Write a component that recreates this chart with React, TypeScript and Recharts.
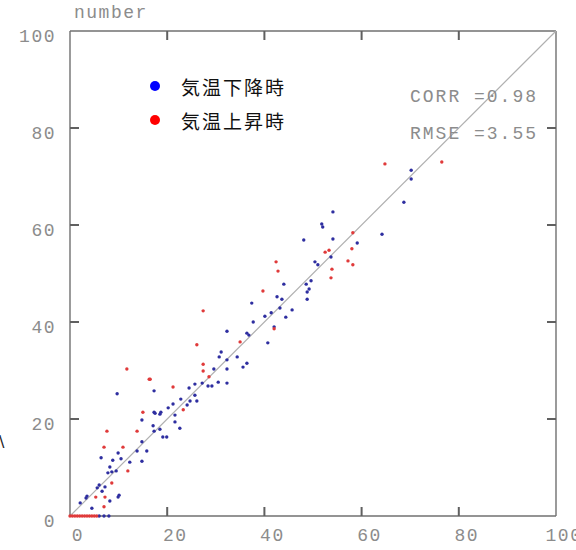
import {
  ScatterChart,
  Scatter,
  XAxis,
  YAxis,
  ReferenceLine,
  Legend,
} from 'recharts'

// axis ticks
const xTicks = [0, 20, 40, 60, 80, 100]
const yTicks = [0, 20, 40, 60, 80, 100]

// 気温下降時 (falling temperature) - [observed, estimated]
const fallingPts: [number, number][] = [
  [70.2, 71.3], [70.2, 69.5], [68.7, 64.7], [64.2, 58.1],
  [54.1, 62.7], [51.8, 60.2], [52, 59.6], [48.1, 56.9], [54.1, 57.1], [59.1, 56.3],
  [53.7, 53.4], [50.4, 52.4], [51, 51.8], [49.6, 48.5], [48.6, 47.8], [49.2, 46.8],
  [48.8, 46.2], [48.8, 44.7], [44, 47.8], [42.6, 45.2], [43.6, 44.7], [43.2, 42.9],
  [45.7, 42.5], [44.4, 41], [40.1, 41.2], [41.4, 41.9], [37.4, 43.9], [37.7, 40], [42, 39],
  [32.3, 38.1], [40.7, 35.7], [36.4, 37.7], [36.8, 37.3], [31.1, 33.8], [30.7, 32.8],
  [32.3, 32.2], [34.4, 32.8], [36.4, 31.5], [35.6, 30.7], [32.3, 30.3], [29.6, 30.3],
  [30.5, 27.6], [32.3, 27.4], [29.2, 26.8], [28.4, 26.8], [27.2, 27.4], [25.7, 27.2],
  [24.5, 26.4], [17.3, 25.8], [25.7, 24.9], [22.8, 24.1], [24.7, 23.7], [26.1, 23.7],
  [24.1, 22.9], [21.2, 23.1], [20.2, 22.3], [18.7, 21.4], [17.5, 21.2], [21.6, 20.8],
  [9.7, 25.2], [17.3, 21.4], [18.5, 21], [14.8, 19.8], [21.6, 19.4], [22.6, 18.1],
  [17.1, 18.6], [17.3, 17.5], [18.5, 17.9], [19.1, 16.3], [19.9, 16.3], [14.8, 15.3],
  [15.8, 13.4], [13.8, 13.4], [9.9, 13], [10.5, 11.8], [8.8, 11.5], [12.3, 11.1],
  [14.8, 11.3], [6.4, 12], [8.2, 10.1], [8.6, 9.1], [9.5, 9.3], [7.8, 8.9], [6, 6.4],
  [5.6, 5.8], [7.2, 6], [6.6, 5.1], [10.1, 4.3], [9.9, 3.9], [8.2, 3.1], [3.5, 4.1],
  [3.3, 3.7], [4.5, 1.6], [2.1, 2.7], [6, 0], [7, 0], [8, 0],
]

// 気温上昇時 (rising temperature)
const risingPts: [number, number][] = [
  [64.8, 72.6], [76.5, 73], [58.2, 58.4], [58, 55.1], [57.2, 52.6], [58.2, 51.8],
  [52.5, 54.4], [53.3, 54.8], [42.4, 52.4], [42.8, 50.5], [53.9, 50.9], [53.7, 49.1],
  [39.7, 46.4], [42, 38.6], [27.4, 42.3], [35, 35.9], [26.1, 35.3], [27.4, 31.3],
  [27.4, 29.9], [28.6, 28.7], [21.2, 26.6], [16.5, 28.2], [23.3, 21.9], [11.7, 30.3],
  [16.3, 28.2], [15, 21.4], [13.8, 17.5], [7.6, 17.5], [7, 14.2], [10.9, 14.2],
  [11.9, 9.3], [8.6, 6.8], [7.2, 3.9], [7, 1.9], [5.3, 3.9],
  [0, 0], [0.5, 0], [1, 0], [1.5, 0], [2, 0], [2.5, 0], [3, 0], [3.5, 0],
  [4, 0], [4.5, 0], [5, 0], [5.5, 0],
]

const seriesNames = ['気温下降時', '気温上昇時']
const legendColors = ['#0000ff', '#ff0000']
const stats = ['CORR =0.98', 'RMSE =3.55']

const falling = fallingPts.map(([x, y]) => ({ x, y }))
const rising = risingPts.map(([x, y]) => ({ x, y }))

// inner tick positions on the four sides of the frame
const inner = (t: number) => t > 0 && t < 100
const ticksBottom = xTicks.filter(inner).map(x => ({ x, y: 0 }))
const ticksTop = xTicks.filter(inner).map(x => ({ x, y: 100 }))
const ticksLeft = yTicks.filter(inner).map(y => ({ x: 0, y }))
const ticksRight = yTicks.filter(inner).map(y => ({ x: 100, y }))

const mono = '"Liberation Mono", "DejaVu Sans Mono", monospace'
const gray = '#8c8c8c'
const axisColor = '#707070'
const TICK_PX = 9
const TICK_W = 2

const BottomTick = (props: any) => {
  const { x, y, payload } = props
  return (
    <text x={x + 8} y={y} dy="0.71em" textAnchor="middle" fill={gray}
      fontSize={18} fontFamily={mono} letterSpacing={1.5}>
      {payload.value}
    </text>
  )
}

const LeftTick = (props: any) => {
  const { x, y, payload } = props
  return (
    <text x={x} y={y + 5} dy="0.355em" textAnchor="end" fill={gray}
      fontSize={18} fontFamily={mono} letterSpacing={1.5}>
      {payload.value}
    </text>
  )
}

// tick marks as small filled bars pointing into the plot
const vTick = (dir: number) => (props: any) => {
  const { cx, cy } = props
  return (
    <rect x={cx - TICK_W / 2} y={dir < 0 ? cy - TICK_PX : cy} width={TICK_W} height={TICK_PX}
      fill="#606060" />
  )
}

const hTick = (dir: number) => (props: any) => {
  const { cx, cy } = props
  return (
    <rect x={dir > 0 ? cx : cx - TICK_PX} y={cy - TICK_W / 2} width={TICK_PX} height={TICK_W}
      fill="#606060" />
  )
}

const dotShape = (color: string) => (props: any) =>
  <circle cx={props.cx} cy={props.cy} r={1.7} fill={color} />

const renderLegend = (props: any) => {
  const items = (props.payload || [])
    .filter((e: any) => seriesNames.includes(e.value))
    .sort((a: any, b: any) => seriesNames.indexOf(a.value) - seriesNames.indexOf(b.value))
  return (
    <div>
      {items.map((entry: any, i: number) => (
        <div key={i} style={{ display: 'flex', alignItems: 'center', height: 34 }}>
          <span style={{
            width: 10, height: 10, borderRadius: 5,
            background: legendColors[seriesNames.indexOf(entry.value)],
            marginRight: 21,
          }} />
          <span style={{
            fontFamily: '"Noto Sans CJK JP", sans-serif', fontSize: 19,
            letterSpacing: 2, color: '#111',
          }}>{entry.value}</span>
        </div>
      ))}
    </div>
  )
}

export default function App() {
  return (
    <div style={{ position: 'absolute', left: 0, top: 0, width: 576, height: 550, background: '#fff' }}>
      <ScatterChart width={576} height={550} margin={{ top: 31, right: 20, bottom: 4, left: 10 }}>
        <XAxis xAxisId="b" type="number" dataKey="x" domain={[0, 100]} ticks={xTicks}
          interval={0} orientation="bottom" height={30} tickSize={0} tickMargin={12}
          tickLine={false} stroke={axisColor} strokeWidth={1.4} tick={<BottomTick />} />
        <YAxis yAxisId="l" type="number" dataKey="y" domain={[0, 100]} ticks={yTicks}
          interval={0} orientation="left" width={60} tickSize={0} tickMargin={14}
          tickLine={false} stroke={axisColor} strokeWidth={1.4} tick={<LeftTick />} />
        <ReferenceLine xAxisId="b" yAxisId="l" y={100} stroke={axisColor} strokeWidth={1.4} />
        <ReferenceLine xAxisId="b" yAxisId="l" x={100} stroke={axisColor} strokeWidth={1.4} />
        <ReferenceLine xAxisId="b" yAxisId="l"
          segment={[{ x: 0, y: 0 }, { x: 100, y: 100 }]} stroke="#b0b0b0" strokeWidth={1.2} />
        <Scatter xAxisId="b" yAxisId="l" data={ticksBottom} legendType="none" fill="#606060"
          shape={vTick(-1)} isAnimationActive={false} />
        <Scatter xAxisId="b" yAxisId="l" data={ticksTop} legendType="none" fill="#606060"
          shape={vTick(1)} isAnimationActive={false} />
        <Scatter xAxisId="b" yAxisId="l" data={ticksLeft} legendType="none" fill="#606060"
          shape={hTick(1)} isAnimationActive={false} />
        <Scatter xAxisId="b" yAxisId="l" data={ticksRight} legendType="none" fill="#606060"
          shape={hTick(-1)} isAnimationActive={false} />
        <Legend layout="vertical" align="center" verticalAlign="middle"
          wrapperStyle={{ left: 150, top: 69, width: 'auto' }} content={renderLegend} />
        <Scatter xAxisId="b" yAxisId="l" name={seriesNames[0]} data={falling}
          fill="#2e2ea0" shape={dotShape('#2e2ea0')} isAnimationActive={false} />
        <Scatter xAxisId="b" yAxisId="l" name={seriesNames[1]} data={rising}
          fill="#e03a3a" shape={dotShape('#e03a3a')} isAnimationActive={false} />
      </ScatterChart>
      <div style={{ position: 'absolute', left: 74, top: 3, fontFamily: mono, fontSize: 18, letterSpacing: 1.5, color: gray }}>
        number
      </div>
      {stats.map((s, i) => (
        <div key={s} style={{
          position: 'absolute', left: 410, top: 87 + i * 37, fontFamily: mono, fontSize: 18,
          letterSpacing: 2, color: gray, whiteSpace: 'pre',
        }}>{s}</div>
      ))}
      <div style={{ position: 'absolute', left: -1, top: 432, fontFamily: 'DejaVu Sans', fontSize: 16, color: '#222' }}>\</div>
    </div>
  )
}
